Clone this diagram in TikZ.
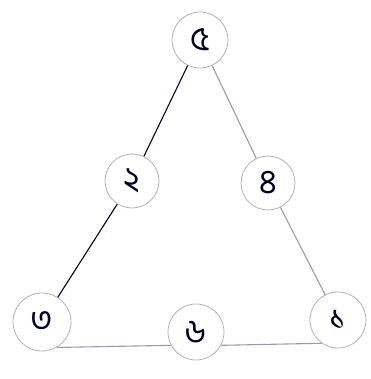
\documentclass[tikz,border=0pt]{standalone}
\usepackage{fontspec}
\newfontfamily\bnfont[Script=Bengali]{Hind Siliguri}
\begin{document}
\begin{tikzpicture}[x=1pt,y=-1pt,
  numcirc/.style={circle,draw=black!30,line width=0.8pt,fill=white,minimum size=56pt,inner sep=0pt,font=\bnfont\fontsize{34}{34}\selectfont,text=black!75!blue!60!black},
  darkline/.style={draw=black!75!blue!70!black,line width=1.1pt},
  lightline/.style={draw=blue!25!black!40,line width=1.1pt}]
\useasboundingbox (0,0) rectangle (370,379);
\node[numcirc] (t) at (200,40) {৫};
\node[numcirc,minimum size=54pt] (lm) at (132,181) {২};
\node[numcirc,minimum size=54pt] (rm) at (268,183) {৪};
\node[numcirc,minimum size=58pt] (bl) at (42,322) {৩};
\node[numcirc] (bm) at (196,332) {৬};
\node[numcirc] (br) at (338,320) {১};
\draw[darkline] (t) -- (lm);
\draw[darkline] (lm) -- (bl);
\draw[lightline] (t) -- (rm);
\draw[lightline] (rm) -- (br);
\draw[lightline] (bl.-60) -- (bm.-152);
\draw[lightline] (bm.-28) -- (br.-125);
\end{tikzpicture}
\end{document}
